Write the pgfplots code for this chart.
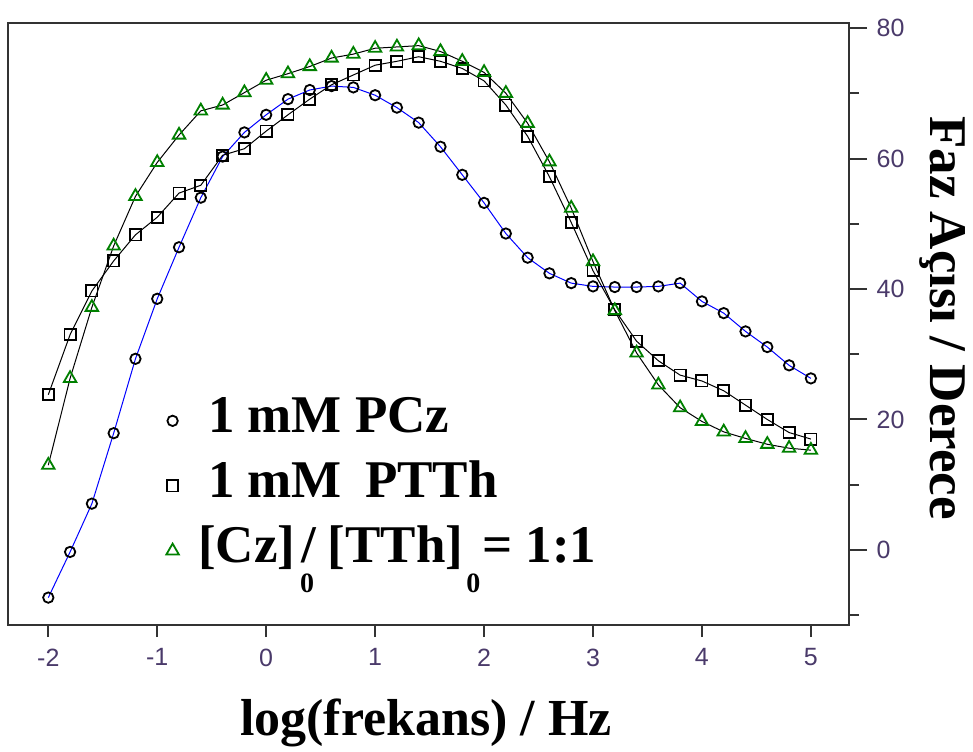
\documentclass[border=0pt]{standalone}
\usepackage{fontspec}
\setmainfont{Liberation Serif}
\newfontfamily\arialfont{Liberation Sans}
\usepackage{pgfplots}
\pgfplotsset{compat=1.18}
\definecolor{ticklbl}{HTML}{4A3A6A}
\definecolor{framegray}{HTML}{333333}
\definecolor{pczblue}{HTML}{0000FF}
\definecolor{mixgreen}{HTML}{008000}
\newcommand\subz{\raisebox{-15pt}{\fontsize{14}{14}\selectfont 0}}

\pgfplotstableread{
x y
-2.0 -7.3
-1.8 -0.3
-1.6 7.1
-1.4 17.9
-1.2 29.3
-1.0 38.5
-0.8 46.4
-0.6 54.0
-0.4 60.3
-0.2 64.0
0.0 66.7
0.2 69.1
0.4 70.5
0.6 71.1
0.8 70.9
1.0 69.7
1.2 67.8
1.4 65.5
1.6 61.8
1.8 57.5
2.0 53.2
2.2 48.5
2.4 44.8
2.6 42.4
2.8 40.9
3.0 40.4
3.2 40.3
3.4 40.3
3.6 40.4
3.8 40.9
4.0 38.1
4.2 36.3
4.4 33.5
4.6 31.1
4.8 28.3
5.0 26.3
}\pcz

\pgfplotstableread{
x y
-2.0 23.8
-1.8 33.0
-1.6 39.7
-1.4 44.3
-1.2 48.3
-1.0 51.0
-0.8 54.7
-0.6 55.9
-0.4 60.5
-0.2 61.5
0.0 64.2
0.2 66.7
0.4 69.1
0.6 71.3
0.8 72.8
1.0 74.3
1.2 74.9
1.4 75.6
1.6 74.9
1.8 73.8
2.0 71.9
2.2 68.2
2.4 63.4
2.6 57.2
2.8 50.2
3.0 42.8
3.2 36.8
3.4 32.0
3.6 29.0
3.8 26.8
4.0 25.9
4.2 24.4
4.4 22.2
4.6 20.0
4.8 18.0
5.0 17.0
}\ptth

\pgfplotstableread{
x y
-2.0 13.0
-1.8 26.3
-1.6 37.2
-1.4 46.6
-1.2 54.2
-1.0 59.4
-0.8 63.6
-0.6 67.3
-0.4 68.2
-0.2 70.1
0.0 72.0
0.2 73.0
0.4 74.1
0.6 75.4
0.8 76.0
1.0 76.9
1.2 77.1
1.4 77.3
1.6 76.4
1.8 74.9
2.0 73.2
2.2 70.0
2.4 65.4
2.6 59.5
2.8 52.4
3.0 44.2
3.2 36.7
3.4 30.2
3.6 25.3
3.8 21.8
4.0 19.7
4.2 18.1
4.4 17.1
4.6 16.2
4.8 15.6
5.0 15.3
}\mix

\begin{document}
\begin{tikzpicture}[x=0.5pt,y=0.5pt]
% one unit = one pixel of the reference
\useasboundingbox (0,0) rectangle (973,751);
\begin{axis}[
    at={(4pt,63pt)}, anchor=south west,
    scale only axis, width=420.5pt, height=301pt,
    xmin=-2.37, xmax=5.35, ymin=-11.5, ymax=80.77,
    axis line style={draw=framegray, line width=1pt},
    xtick={-2,-1,0,1,2,3,4,5},
    ytick={0,20,40,60,80},
    minor ytick={-10,10,30,50,70},
    xtick pos=bottom, ytick pos=right, yticklabel pos=right,
    tick align=outside,
    tick style={draw=framegray, line width=1pt},
    xtick style={/pgfplots/major tick length=6pt},
    ytick style={/pgfplots/major tick length=9pt},
    minor tick length=5pt,
    /pgf/number format/assume math mode=true,
    ticklabel style={font=\arialfont\fontsize{12.5}{14}\selectfont, text=ticklbl},
    xticklabel style={yshift=-4pt},
    yticklabel style={anchor=west, xshift=6pt},
    legend style={at={(0.188,0.379)}, anchor=north west, draw=none, fill=none,
        inner sep=0pt, outer sep=0pt,
        font=\bfseries\fontsize{26.5}{30}\selectfont,
        nodes={text height=18pt, text depth=6pt, inner sep=0pt},
        row sep=8.5pt, column sep=0pt},
    legend cell align=left,
    legend image code/.code={\path (-3pt,0) (17.5pt,0);
        \draw[#1, only marks] plot coordinates {(0pt,0pt)};},
]
\addplot[pczblue, line width=0.5pt, mark=o, mark size=2.6pt,
    mark options={draw=black, fill=white, line width=0.9pt}] table {\pcz};
\addlegendentry{1 mM PCz}
\addplot[black, line width=0.5pt, mark=square, mark size=2.8pt,
    mark options={draw=black, fill=white, line width=0.9pt}] table {\ptth};
\addlegendentry{1 mM\hspace{11.6pt}PTTh}
\addplot[black, line width=0.5pt, mark=triangle, mark size=3.6pt,
    mark options={draw=mixgreen, fill=white, line width=0.9pt}] table {\mix};
\addlegendentry{\hspace{-5pt}[Cz]\makebox[0pt][l]{\hspace{2.5pt}\subz}\hspace{3pt}/\hspace{6pt}[TTh]\hspace{1.5pt}\subz\hspace{1pt}= 1:1}
\end{axis}
\node[anchor=base, font=\bfseries\fontsize{26}{30}\selectfont] at (426,16) {log(frekans) / Hz};
\node[anchor=base, rotate=-90, font=\bfseries\fontsize{26.5}{30}\selectfont] at (930,433) {Faz Açısı / Derece};
\end{tikzpicture}
\end{document}
